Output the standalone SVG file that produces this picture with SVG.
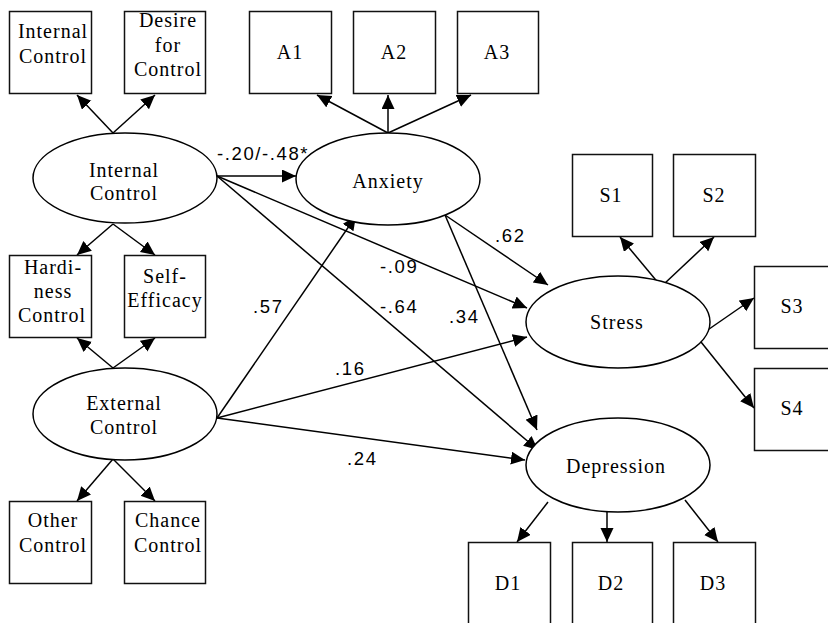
<svg xmlns="http://www.w3.org/2000/svg" width="828" height="623" viewBox="0 0 828 623">
<defs>
<marker id="ah" markerUnits="userSpaceOnUse" markerWidth="15" markerHeight="14" refX="14" refY="6.5" orient="auto">
<path d="M0,0 L14,6.5 L0,13 z" fill="#000"/>
</marker>
<style>
.box{fill:#fff;stroke:#111;stroke-width:1.5}
.ell{fill:#fff;stroke:#000;stroke-width:1.5}
.nt{font-family:"Liberation Serif","Times New Roman",serif;font-size:20px;letter-spacing:1px;text-anchor:middle;fill:#000}
.el{font-family:"Liberation Sans",Arial,sans-serif;font-size:18.5px;letter-spacing:1.6px;fill:#000}
.c{fill:none;stroke:#000;stroke-width:1.5;marker-end:url(#ah)}
.p{fill:none;stroke:#000;stroke-width:1.5}
</style>
</defs>
<rect width="828" height="623" fill="#fff"/>

<g id="connectors">
<line class="c" x1="113" y1="133" x2="77" y2="95"/>
<line class="c" x1="113" y1="133" x2="155" y2="95"/>
<line class="c" x1="113" y1="224" x2="77" y2="255"/>
<line class="c" x1="113" y1="224" x2="155" y2="255"/>
<line class="c" x1="113" y1="368" x2="77" y2="338"/>
<line class="c" x1="113" y1="368" x2="155" y2="338"/>
<line class="c" x1="113" y1="459" x2="77" y2="501"/>
<line class="c" x1="113" y1="459" x2="155" y2="501"/>
<line class="c" x1="388" y1="133" x2="317" y2="95"/>
<line class="c" x1="388" y1="133" x2="388" y2="95"/>
<line class="c" x1="388" y1="133" x2="471" y2="95"/>
<path class="p" d="M658 282 L662 287 L666 283"/>
<line class="c" x1="660" y1="285" x2="620" y2="237"/>
<line class="c" x1="664" y1="284" x2="714" y2="237"/>
<path class="p" d="M695 335 L699 339 L702 336"/>
<line class="c" x1="699" y1="336" x2="754" y2="298"/>
<line class="c" x1="697" y1="337" x2="754" y2="408"/>
<line class="c" x1="548" y1="502" x2="517" y2="542"/>
<line class="c" x1="607" y1="512" x2="607" y2="542"/>
<line class="c" x1="685" y1="500" x2="718" y2="542"/>
<line class="c" x1="217" y1="176" x2="296" y2="176"/>
<line class="c" x1="217" y1="176" x2="527" y2="308"/>
<line class="c" x1="217" y1="176" x2="538" y2="450"/>
<line class="c" x1="217" y1="418" x2="356" y2="216"/>
<line class="c" x1="217" y1="418" x2="527" y2="337"/>
<line class="c" x1="217" y1="418" x2="525" y2="460"/>
<line class="c" x1="445" y1="215" x2="548" y2="285"/>
<line class="c" x1="445" y1="215" x2="537" y2="430"/>
</g>

<g id="edge-labels">
<text class="el" x="217" y="160">-.20/-.48*</text>
<text class="el" x="495" y="242">.62</text>
<text class="el" x="380" y="273">-.09</text>
<text class="el" x="380" y="313">-.64</text>
<text class="el" x="449" y="323">.34</text>
<text class="el" x="253" y="313">.57</text>
<text class="el" x="335" y="375">.16</text>
<text class="el" x="347" y="465">.24</text>
</g>

<g id="ic-internal-control"><rect class="box" x="9.5" y="11.5" width="82" height="82"/><text class="nt" x="53" y="38">Internal</text><text class="nt" x="53" y="63">Control</text></g>
<g id="ic-desire"><rect class="box" x="124.5" y="11.5" width="81" height="82"/><text class="nt" x="168" y="27">Desire</text><text class="nt" x="168" y="52">for</text><text class="nt" x="168" y="76">Control</text></g>
<g id="a1"><rect class="box" x="249.5" y="11.5" width="82" height="82"/><text class="nt" x="290" y="59">A1</text></g>
<g id="a2"><rect class="box" x="353.5" y="11.5" width="82" height="82"/><text class="nt" x="394" y="59">A2</text></g>
<g id="a3"><rect class="box" x="457.5" y="11.5" width="81" height="82"/><text class="nt" x="497" y="59">A3</text></g>

<g id="internal-control"><ellipse class="ell" cx="125" cy="178" rx="92" ry="45"/><text class="nt" x="124" y="177">Internal</text><text class="nt" x="124" y="200">Control</text></g>
<g id="anxiety"><ellipse class="ell" cx="388" cy="179" rx="92" ry="46"/><text class="nt" x="388" y="188">Anxiety</text></g>

<g id="hardiness"><rect class="box" x="9.5" y="255.5" width="82" height="82"/><text class="nt" x="53" y="274">Hardi-</text><text class="nt" x="53" y="298">ness</text><text class="nt" x="52" y="322">Control</text></g>
<g id="self-efficacy"><rect class="box" x="124.5" y="255.5" width="81" height="82"/><text class="nt" x="165" y="283">Self-</text><text class="nt" x="165" y="307">Efficacy</text></g>

<g id="external-control"><ellipse class="ell" cx="125" cy="414" rx="92" ry="46"/><text class="nt" x="124" y="410">External</text><text class="nt" x="124" y="434">Control</text></g>

<g id="other-control"><rect class="box" x="9.5" y="501.5" width="82" height="82"/><text class="nt" x="53" y="527">Other</text><text class="nt" x="53" y="552">Control</text></g>
<g id="chance-control"><rect class="box" x="124.5" y="501.5" width="81" height="82"/><text class="nt" x="168" y="527">Chance</text><text class="nt" x="168" y="552">Control</text></g>

<g id="s1"><rect class="box" x="572.5" y="154.5" width="80" height="82"/><text class="nt" x="611" y="202">S1</text></g>
<g id="s2"><rect class="box" x="673.5" y="154.5" width="82" height="82"/><text class="nt" x="714" y="202">S2</text></g>
<g id="s3"><rect class="box" x="754.5" y="266.5" width="82" height="82"/><text class="nt" x="792" y="313">S3</text></g>
<g id="s4"><rect class="box" x="754.5" y="368.5" width="82" height="82"/><text class="nt" x="792" y="415">S4</text></g>

<g id="stress"><ellipse class="ell" cx="618" cy="322" rx="92" ry="46"/><text class="nt" x="617" y="329">Stress</text></g>
<g id="depression"><ellipse class="ell" cx="618" cy="465" rx="92" ry="47"/><text class="nt" x="616" y="473">Depression</text></g>

<g id="d1"><rect class="box" x="468.5" y="542.5" width="82" height="82"/><text class="nt" x="508" y="590">D1</text></g>
<g id="d2"><rect class="box" x="572.5" y="542.5" width="80" height="82"/><text class="nt" x="611" y="590">D2</text></g>
<g id="d3"><rect class="box" x="673.5" y="542.5" width="82" height="82"/><text class="nt" x="713" y="590">D3</text></g>
</svg>
